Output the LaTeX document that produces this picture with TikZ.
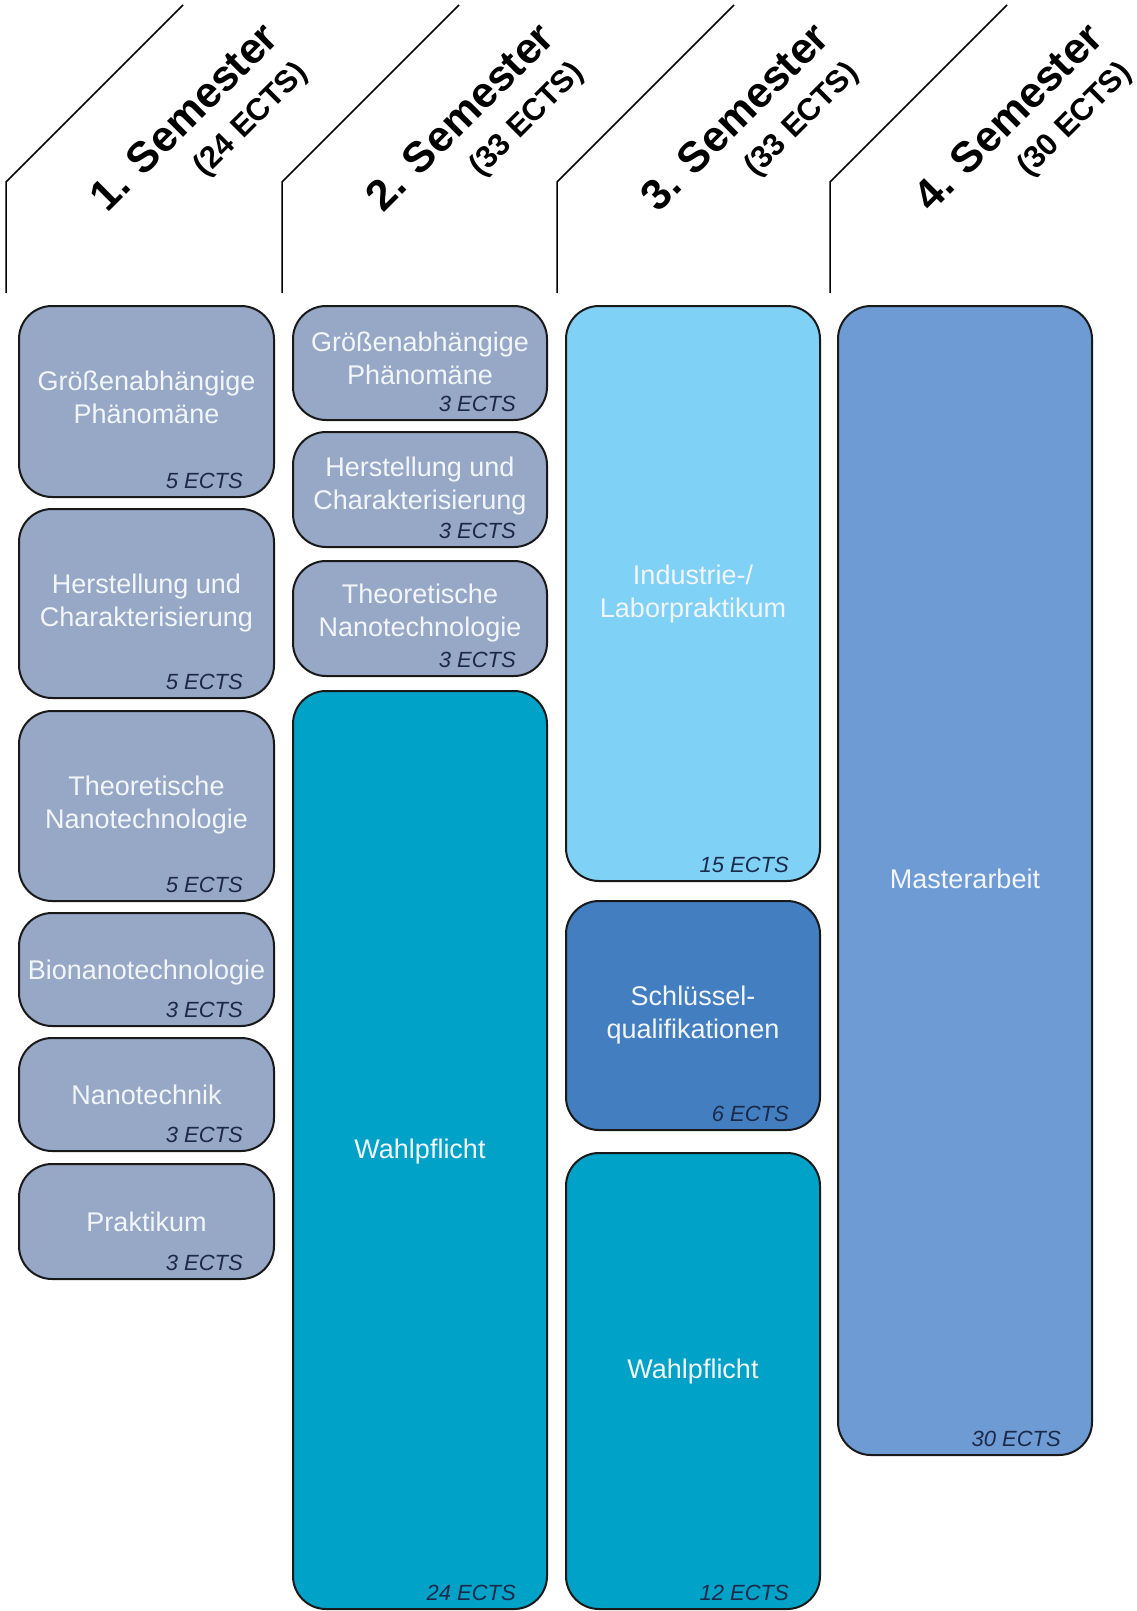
\documentclass[tikz,border=0pt]{standalone}
\usepackage{fontspec}
\setmainfont{Liberation Sans}
\definecolor{modgray}{HTML}{96A8C6}
\definecolor{wahl}{HTML}{00A2C8}
\definecolor{ind}{HTML}{7FD1F6}
\definecolor{keyq}{HTML}{437EC0}
\definecolor{master}{HTML}{6F9BD4}
\definecolor{ectsc}{HTML}{1C2A4A}
\definecolor{txt}{HTML}{F2F5FA}
\newcommand{\modul}[9]{%
  \pgfmathsetmacro\modX{(#2+#4)/2}%
  \pgfmathsetmacro\modY{(#3+#5)/2}%
  \pgfmathsetmacro\modW{#4-#2}%
  \pgfmathsetmacro\modH{#5-#3}%
  \node[modbox, fill=#6, minimum width=\modW pt, minimum height=\modH pt] (#1) at (\modX,\modY) {};
  \node[maintext] (#1-t) at ([yshift=#9pt]#1.center) {#7};
  \node[ects] (#1-e) at ([xshift=-31pt,yshift=9pt]#1.south east) {#8};
}
\newcommand{\semhead}[4]{% name, line x, title, ects
  \draw[hdrline] (#2,293) -- (#2,182) -- ({#2+177},5);
  \node[semtitle] (#1a) at ({#2+275},40) {#3};
  \node[semects] (#1b) at ({#2+303},74) {#4};
}
\begin{document}
\begin{tikzpicture}[x=1pt,y=-1pt,
  modbox/.style={draw=black!90, line width=2pt, rounded corners=33pt, inner sep=0pt, outer sep=0pt},
  maintext/.style={text=txt, align=center, font=\fontsize{27}{33}\selectfont, inner sep=0pt},
  ects/.style={text=ectsc, font=\fontsize{22}{26}\selectfont\itshape, inner sep=0pt, anchor=base east},
  hdrline/.style={line width=1.5pt, black},
  semtitle/.style={font=\fontsize{43}{48}\selectfont\bfseries, rotate=45, anchor=base east, inner sep=0pt},
  semects/.style={font=\fontsize{31}{35}\selectfont\bfseries, rotate=45, anchor=base east, inner sep=0pt},
]
\useasboundingbox[fill=white] (0,0) rectangle (1137,1611);

\semhead{h1}{6}{1. Semester}{(24 ECTS)}
\semhead{h2}{282}{2. Semester}{(33 ECTS)}
\semhead{h3}{557}{3. Semester}{(33 ECTS)}
\semhead{h4}{830}{4. Semester}{(30 ECTS)}

% column 1
\modul{b11}{19}{306}{274}{497}{modgray}{Größenabhängige\\Phänomäne}{5 ECTS}{4}
\modul{b12}{19}{509}{274}{698}{modgray}{Herstellung und\\Charakterisierung}{5 ECTS}{0}
\modul{b13}{19}{711}{274}{901}{modgray}{Theoretische\\Nanotechnologie}{5 ECTS}{1}
\modul{b14}{19}{913}{274}{1026}{modgray}{Bionanotechnologie}{3 ECTS}{-3}
\modul{b15}{19}{1038}{274}{1151}{modgray}{Nanotechnik}{3 ECTS}{0}
\modul{b16}{19}{1164}{274}{1279}{modgray}{Praktikum}{3 ECTS}{0}

% column 2
\modul{b21}{293}{306}{547}{420}{modgray}{Größenabhängige\\Phänomäne}{3 ECTS}{5}
\modul{b22}{293}{432}{547}{547}{modgray}{Herstellung und\\Charakterisierung}{3 ECTS}{3}
\modul{b23}{293}{561}{547}{676}{modgray}{Theoretische\\Nanotechnologie}{3 ECTS}{5}
\modul{b24}{293}{691}{547}{1609}{wahl}{Wahlpflicht}{24 ECTS}{-2}

% column 3
\modul{b31}{566}{306}{820}{881}{ind}{Industrie-/\\Laborpraktikum}{15 ECTS}{-1}
\modul{b32}{566}{901}{820}{1130}{keyq}{Schlüssel-\\qualifikationen}{6 ECTS}{0}
\modul{b33}{566}{1153}{820}{1609}{wahl}{Wahlpflicht}{12 ECTS}{9}

% column 4
\modul{b41}{838}{306}{1092}{1455}{master}{Masterarbeit}{30 ECTS}{2}
\end{tikzpicture}
\end{document}
